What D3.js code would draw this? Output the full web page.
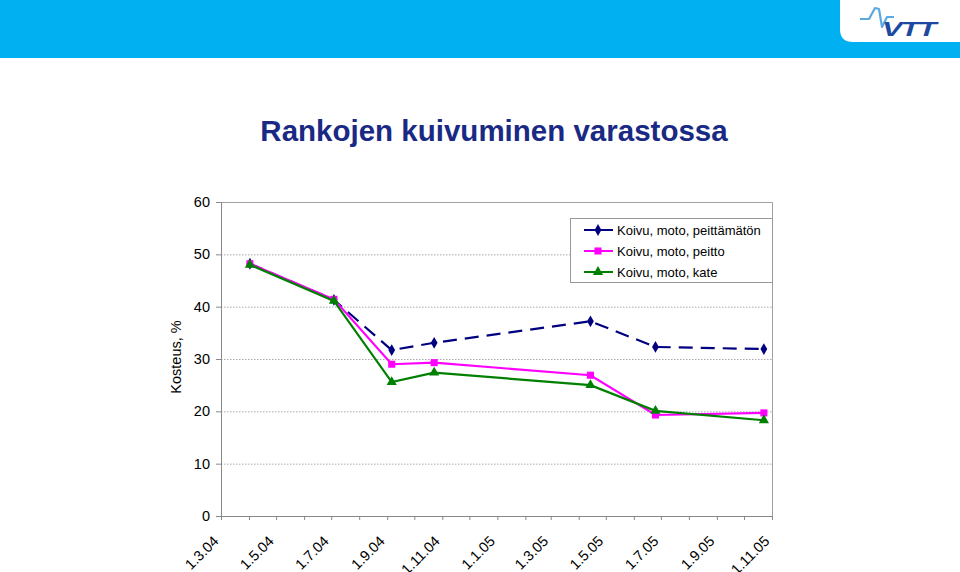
<!DOCTYPE html>
<html><head><meta charset="utf-8">
<script src="https://cdn.jsdelivr.net/npm/d3@7"></script>
<style>body{margin:0;background:#fff;font-family:Arial,"Liberation Sans",sans-serif}</style>
</head><body><svg id="c" width="960" height="572"></svg>
<script>
const dates = ["2004-04-02","2004-07-04","2004-09-06","2004-10-23","2005-04-14","2005-06-25","2005-10-23"];
const seriesNames = ["Koivu, moto, peittämätön","Koivu, moto, peitto","Koivu, moto, kate"];
const peittamaton = [48.2, 41.3, 31.7, 33.1, 37.2, 32.3, 31.9];
const peitto = [48.2, 41.4, 29.0, 29.3, 26.9, 19.3, 19.7];
const kate = [48.0, 41.1, 25.6, 27.4, 25.0, 20.1, 18.3];
const xTickLabels = ["1.3.04","1.5.04","1.7.04","1.9.04","1.11.04","1.1.05","1.3.05","1.5.05","1.7.05","1.9.05","1.11.05"];
const yTicks = [0,10,20,30,40,50,60];
const title = "Rankojen kuivuminen varastossa";
const yLabel = "Kosteus, %";

const FONT = "Arial,'Liberation Sans',sans-serif";
const svg = d3.select("#c");
// header band
svg.append("rect").attr("x",0).attr("y",0).attr("width",960).attr("height",58).attr("fill","#00b0f0");
svg.append("path").attr("d","M840,0 H960 V42 H853 Q840,42 840,29 Z").attr("fill","#fff");
// VTT logo
svg.append("path").attr("d","M860,19 L869,19 L875,8 L879,9 L882,27 L887,17 L894,17")
  .attr("fill","none").attr("stroke","#5aa9e0").attr("stroke-width",2.2).attr("stroke-linejoin","round");
svg.append("text").attr("transform","translate(882,36) scale(1.45,1)").attr("font-size",21).attr("font-weight","bold")
  .attr("font-style","italic").attr("fill","#1d4aa0").attr("letter-spacing",-1).text("VTT");

svg.append("text").attr("x",494).attr("y",141).attr("text-anchor","middle")
  .attr("font-size",29.5).attr("font-weight","bold").attr("fill","#1a2a84").text(title);

const parse = d3.utcParse("%Y-%m-%d");
const fmtLabel = d => `${d.getUTCDate()}.${d.getUTCMonth()+1}.${String(d.getUTCFullYear()).slice(2)}`;
const tickDates = xTickLabels.map(s => { const [dd,mm,yy] = s.split("."); return new Date(Date.UTC(2000+ +yy, +mm-1, +dd)); });

const L=221, R=772, T=202, B=516;
const x = d3.scaleUtc().domain([tickDates[0], tickDates[tickDates.length-1]]).range([L,R]);
const y = d3.scaleLinear().domain([0,60]).range([B,T]);

// gridlines
svg.append("g").selectAll("line").data(yTicks.filter(v=>v>0&&v<60)).join("line")
  .attr("x1",L).attr("x2",R).attr("y1",d=>y(d)+0.5).attr("y2",d=>y(d)+0.5)
  .attr("stroke","#aaa").attr("stroke-width",1).attr("stroke-dasharray","1.5,1.5");
// border top/right
svg.append("path").attr("d",`M${L},${T+0.5} H${R+0.5} V${B}`).attr("fill","none").attr("stroke","#a0a0a0").attr("stroke-width",1);

// y axis
const yAxis = svg.append("g").attr("transform",`translate(${L},0)`)
  .call(d3.axisLeft(y).tickValues(yTicks).tickSize(5).tickPadding(6));
yAxis.select(".domain").attr("stroke","#888");
yAxis.selectAll(".tick line").attr("stroke","#888");
yAxis.selectAll("text").attr("font-size",14.5).attr("font-family",FONT).attr("fill","#000");

// x axis minor ticks (monthly)
const months = d3.utcMonth.range(tickDates[0], d3.utcMonth.offset(tickDates[tickDates.length-1],1));
const xAxis = svg.append("g").attr("transform",`translate(0,${B})`)
  .call(d3.axisBottom(x).tickValues(months).tickSize(4).tickFormat(d => xTickLabels.includes(fmtLabel(d)) ? fmtLabel(d) : ""));
xAxis.select(".domain").attr("stroke","#888");
xAxis.selectAll(".tick line").attr("stroke","#888");
xAxis.selectAll("text").attr("font-size",14.5).attr("font-family",FONT).attr("fill","#000")
  .attr("text-anchor","end").attr("x",0).attr("y",0).attr("dy",0).attr("transform","translate(-2,26) rotate(-45)");

svg.append("text").attr("transform",`translate(181,${(T+B)/2-2}) rotate(-90)`).attr("text-anchor","middle")
  .attr("font-size",14.5).attr("fill","#000").text(yLabel);

const series = [
  {name:seriesNames[0], vals:peittamaton, color:"#000080", dash:"14,8", marker:d3.symbolDiamond, size:40},
  {name:seriesNames[1], vals:peitto, color:"#ff00ff", dash:null, marker:d3.symbolSquare, size:50},
  {name:seriesNames[2], vals:kate, color:"#008000", dash:null, marker:d3.symbolTriangle, size:45},
];
const xd = dates.map(parse);
const line = d3.line().x((d,i)=>x(xd[i])).y(d=>y(d));
series.forEach(s=>{
  svg.append("path").datum(s.vals).attr("d",line).attr("fill","none").attr("stroke",s.color)
    .attr("stroke-width",2.2).attr("stroke-dasharray",s.dash);
  svg.append("g").selectAll("path").data(s.vals).join("path")
    .attr("transform",(d,i)=>`translate(${x(xd[i])},${y(d)})`)
    .attr("d",d3.symbol(s.marker,s.size)).attr("fill",s.color);
});

// legend
const lg = svg.append("g");
lg.append("rect").attr("x",570.5).attr("y",218.5).attr("width",202).attr("height",64).attr("fill","#fff").attr("stroke","#999");
series.forEach((s,i)=>{
  const cy = 230 + i*21;
  lg.append("line").attr("x1",584).attr("x2",613).attr("y1",cy).attr("y2",cy).attr("stroke",s.color).attr("stroke-width",2);
  lg.append("path").attr("transform",`translate(598,${cy})`).attr("d",d3.symbol(s.marker,s.size)).attr("fill",s.color);
  lg.append("text").attr("x",617).attr("y",cy+4.5).attr("font-size",13).attr("font-family",FONT).attr("fill","#000").text(s.name);
});
</script></body></html>
